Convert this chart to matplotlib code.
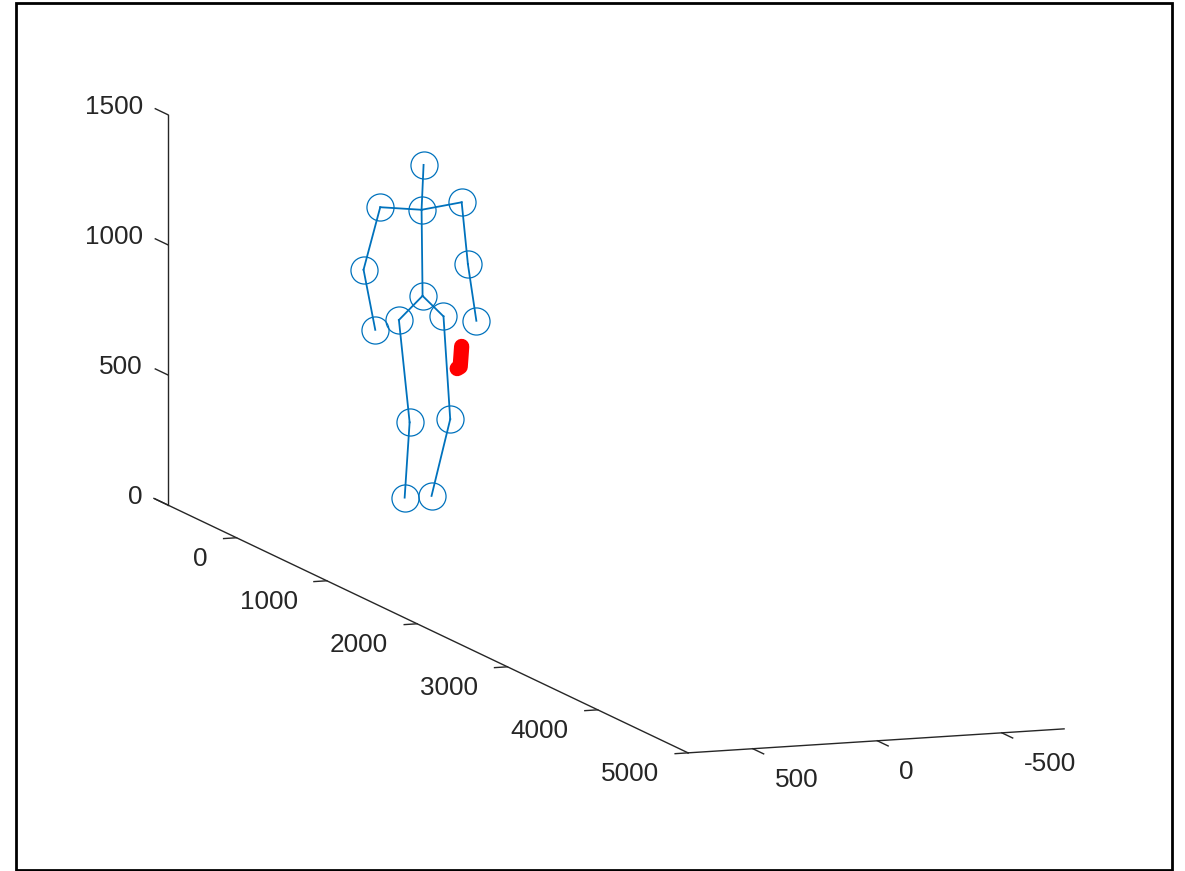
import numpy as np
import matplotlib
matplotlib.use('Agg')
import matplotlib.pyplot as plt
from matplotlib.patches import Rectangle
from matplotlib.transforms import offset_copy

plt.rcParams['font.family'] = ['Liberation Sans', 'DejaVu Sans']

# skeleton joints (mm)
joint_names = ['head', 'neck', 'shoulder_l', 'elbow_l', 'hand_l',
               'shoulder_r', 'elbow_r', 'hand_r', 'spine_base',
               'hip_l', 'knee_l', 'foot_l', 'hip_r', 'knee_r', 'foot_r']
joint_x = [0, 0, 0, 0, 0, 0, 0, 0, 0, 0, 0, 0, 0, 0, 0]
joint_y = [9, 17, 183, 250, 203, -144, -169, -203, 13, 108, 65, 85, -71, -98, -23]
joint_z = [1387, 1215, 1235, 999, 765, 1234, 995, 775, 884, 797, 401, 113, 800, 403, 113]
bones = [(0, 1), (1, 8), (1, 2), (2, 3), (3, 4), (1, 5), (5, 6), (6, 7),
         (8, 9), (9, 10), (10, 11), (8, 12), (12, 13), (13, 14)]

# red track
track_x = [0, 0, 0, 0]
track_y = [-144, -141, -138, -126]
track_z = [680, 640, 602, 596]

x_ticks = [0, 1000, 2000, 3000, 4000, 5000]
y_ticks = [500, 0, -500]
z_ticks = [0, 500, 1000, 1500]
x_lim = (-760, 5000)
y_lim = (-750, 760)
z_lim = (0, 1500)

axis_col = '#262626'
blue = '#0072BD'
W, H = 1185, 871

fig = plt.figure(figsize=(W / 100, H / 100), dpi=100)
ax = fig.add_axes([0.1, 0.1, 0.8, 0.8], projection='3d', computed_zorder=False)
ax.set_proj_type('ortho')
ax.set_xlim(*x_lim)
ax.set_ylim(y_lim[1], y_lim[0])
ax.set_zlim(*z_lim)
ax.set_box_aspect((1512, 400, 396))
ax.view_init(elev=10.04, azim=-20.1)
ax.set_axis_off()

# matlab style axis lines and ticks
x0, x1 = x_lim
yf = y_lim[1]
ax.plot([x0 - 155, x1], [yf, yf], [0, 0], color=axis_col, lw=1.0)
ax.plot([x1, x1], [yf, y_lim[0]], [0, 0], color=axis_col, lw=1.0)
ax.plot([x0, x0], [yf, yf], [z_lim[0], z_lim[1]], color=axis_col, lw=1.0)

def off(dx, dy):
    return offset_copy(ax.transData, fig=fig, x=dx, y=dy, units='dots')

fs = 18.8
for t in x_ticks:
    ax.plot([t, t], [yf, yf + 52], [0, 0], color=axis_col, lw=1.0)
    ax.text(t, yf, 0, str(t), transform=off(-29, -21), ha='right', va='center',
            fontsize=fs, color=axis_col)
for t in y_ticks:
    ax.plot([x1, x1 + 120], [t, t], [0, 0], color=axis_col, lw=1.0)
    ax.text(x1, t, 0, str(t), transform=off(22, -31), ha='left', va='center',
            fontsize=fs, color=axis_col)
for t in z_ticks:
    ax.plot([x0, x0 - 140], [yf, yf], [t, t], color=axis_col, lw=1.0)
    ax.text(x0, yf, t, str(t), transform=off(-25, 8), ha='right', va='center',
            fontsize=fs, color=axis_col)

# skeleton
for i, j in bones:
    ax.plot([joint_x[i], joint_x[j]], [joint_y[i], joint_y[j]], [joint_z[i], joint_z[j]],
            color=blue, lw=1.3)
ax.plot(joint_x, joint_y, joint_z, ls='none', marker='o', ms=19.5,
        mfc='none', mec=blue, mew=0.9)
ax.plot(track_x, track_y, track_z, color='red', lw=11,
        solid_capstyle='round', solid_joinstyle='round')

# fit axes placement so the box corners land where they should
fig.canvas.draw()
M = ax.get_proj()
corners = [(x0, yf, 0), (x1, yf, 0), (x0, yf, z_lim[1]), (x1, y_lim[0], 0)]
targets = np.array([(168.5, H - 504), (688, H - 753.5), (168.5, H - 113.5), (1063, H - 730.5)])
P = []
for c in corners:
    v = M @ np.array([c[0], c[1], c[2], 1.0])
    P.append(ax.transData.transform((v[0] / v[3], v[1] / v[3])))
P = np.array(P)
pos = ax.get_position()
o = np.array([pos.x0 * W, pos.y0 * H])
L = pos.width * W
Pm, Tm = P.mean(0), targets.mean(0)
k = ((P - Pm) * (targets - Tm)).sum() / ((P - Pm) ** 2).sum()
o2 = Tm - k * (Pm - o)
L2 = k * L
ax.set_position([o2[0] / W, o2[1] / H, L2 / W, L2 / H])

fig.add_artist(Rectangle((16 / W, 1 / H), 1156 / W, 867 / H, transform=fig.transFigure,
                         fill=False, ec='black', lw=2))

plt.savefig('out.png', dpi=100, facecolor='white')
